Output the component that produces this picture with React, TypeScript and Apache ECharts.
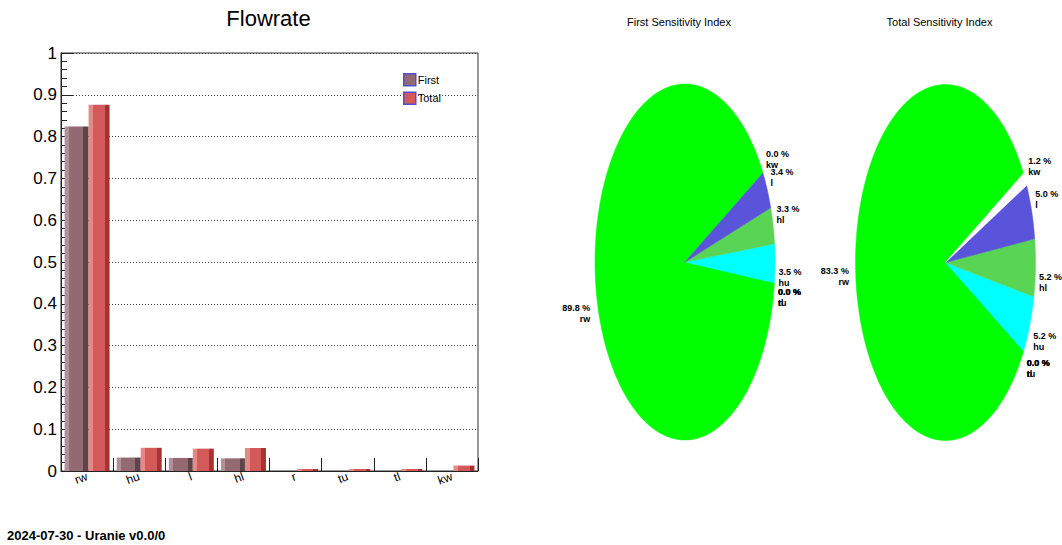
import React, { useEffect, useRef } from "react";
import * as echarts from "echarts";

// ---- data ----
const categories = ["rw", "hu", "l", "hl", "r", "tu", "tl", "kw"];
const firstIndex = [0.824, 0.0322, 0.0312, 0.0303, 0, 0, 0, 0];
const totalIndex = [0.876, 0.0555, 0.0535, 0.055, 0.0004, 0.0004, 0.0004, 0.013];
const yTicks = [0, 1, 0.1];

const pieNames = ["rw", "r", "tu", "tl", "hu", "hl", "l", "kw"];
const pieColors = ["#00ff00", "#0000ff", "#ffff00", "#ff00ff", "#00ffff", "#59d454", "#5954d9", "#ffffff"];
const firstPct = [89.8, 0.0, 0.0, 0.0, 3.5, 3.3, 3.4, 0.0];
const totalPct = [83.3, 0.0, 0.0, 0.0, 5.2, 5.2, 5.0, 1.2];

const FONT = '"Liberation Sans", Arial, Helvetica, sans-serif';
const START_DEG = 30;

function barGradient(light: string, main: string, dark: string, a: number, b: number) {
  return {
    type: "linear",
    x: 0,
    y: 0,
    x2: 1,
    y2: 0,
    colorStops: [
      { offset: 0, color: light },
      { offset: a, color: light },
      { offset: a, color: main },
      { offset: b, color: main },
      { offset: b, color: dark },
      { offset: 1, color: dark },
    ],
  };
}

function makePieSeries(pcts: number[], cx: number, cy: number, rx: number, ry: number) {
  const sum = pcts.reduce((s, v) => s + v, 0);
  let acc = 0;
  const data = pcts.map((p, i) => {
    const s = START_DEG + (acc / sum) * 360;
    acc += p;
    const e = START_DEG + (acc / sum) * 360;
    return [s, e, p, i];
  });
  return {
    type: "custom",
    coordinateSystem: "none",
    silent: true,
    data,
    renderItem: (_params: any, api: any) => {
      const s = api.value(0) as number;
      const e = api.value(1) as number;
      const p = api.value(2) as number;
      const i = api.value(3) as number;
      const children: any[] = [];
      if (e - s > 0.01) {
        const pts: number[][] = [[cx, cy]];
        const n = Math.max(2, Math.ceil(e - s));
        for (let k = 0; k <= n; k++) {
          const a = ((s + ((e - s) * k) / n) * Math.PI) / 180;
          pts.push([cx + rx * Math.cos(a), cy - ry * Math.sin(a)]);
        }
        children.push({
          type: "polygon",
          shape: { points: pts },
          style: { fill: pieColors[i], stroke: pieColors[i], lineWidth: 0.5 },
        });
      }
      const m = (((s + e) / 2) * Math.PI) / 180;
      const c = Math.cos(m);
      const sn = Math.sin(m);
      const lx = cx + rx * 1.04 * c + (c >= 0 ? 0 : -3);
      const ly = cy - ry * 1.04 * sn + (sn > 0 ? 1 : 3);
      children.push({
        type: "text",
        style: {
          text: p.toFixed(1) + " %\n" + pieNames[i],
          x: lx,
          y: ly,
          fill: "#000",
          font: "bold 9px " + FONT,
          align: c >= 0 ? "left" : "right",
          verticalAlign: sn > 0 ? "bottom" : "top",
          lineHeight: 11,
        },
      });
      return { type: "group", children };
    },
  };
}

export default function App() {
  const ref = useRef<HTMLDivElement>(null);
  useEffect(() => {
    document.body.style.margin = "0";
    const chart = echarts.init(ref.current!, null, { renderer: "svg" });
    const firstMain = "#946a72";
    const totalMain = "#d45a5a";
    chart.setOption({
      animation: false,
      backgroundColor: "#ffffff",
      textStyle: { fontFamily: FONT },
      graphic: [
        {
          type: "text",
          x: 268.5,
          y: 18,
          style: { text: "Flowrate", font: "22px " + FONT, fill: "#000", align: "center", verticalAlign: "middle" },
        },
        {
          type: "text",
          x: 679,
          y: 22,
          style: { text: "First Sensitivity Index", font: "11px " + FONT, fill: "#000", align: "center", verticalAlign: "middle" },
        },
        {
          type: "text",
          x: 939.5,
          y: 22,
          style: { text: "Total Sensitivity Index", font: "11px " + FONT, fill: "#000", align: "center", verticalAlign: "middle" },
        },
        {
          type: "text",
          x: 7,
          y: 535,
          style: { text: "2024-07-30 - Uranie v0.0/0", font: "bold 13px " + FONT, fill: "#000", align: "left", verticalAlign: "middle" },
        },
      ],
      legend: {
        show: true,
        orient: "vertical",
        left: 403,
        top: 73,
        padding: 0,
        itemGap: 5,
        itemWidth: 12,
        itemHeight: 12,
        icon: "rect",
        textStyle: { fontSize: 11, color: "#000", fontFamily: FONT, padding: [0, 0, 0, -3] },
        data: [
          { name: "First", itemStyle: { color: firstMain, borderColor: "#4f4fd0", borderWidth: 1.5 } },
          { name: "Total", itemStyle: { color: totalMain, borderColor: "#4f4fd0", borderWidth: 1.5 } },
        ],
      },
      grid: {
        left: 61,
        right: 584,
        top: 53,
        bottom: 74,
        show: true,
        borderColor: "#333",
        borderWidth: 1,
        containLabel: false,
        outerBoundsMode: "none",
      },
      xAxis: {
        type: "category",
        data: categories,
        axisLine: { show: true, lineStyle: { color: "#222", width: 1 } },
        axisTick: { show: true, inside: true, length: 13, lineStyle: { color: "#222" } },
        axisLabel: { color: "#000", fontSize: 12, rotate: 20, margin: 5, fontFamily: FONT },
        splitLine: { show: false },
      },
      yAxis: {
        type: "value",
        min: yTicks[0],
        max: yTicks[1],
        interval: yTicks[2],
        axisLine: { show: true, lineStyle: { color: "#222", width: 1 } },
        axisTick: { show: true, inside: true, length: 12, lineStyle: { color: "#222" } },
        minorTick: { show: true, splitNumber: 5, length: 6, lineStyle: { color: "#222" } },
        axisLabel: { color: "#000", fontSize: 17, margin: 4, fontFamily: FONT },
        splitLine: { show: true, lineStyle: { color: "#444", type: [1, 2], width: 1 } },
        minorSplitLine: { show: false },
      },
      series: [
        {
          name: "First",
          type: "bar",
          data: firstIndex,
          barWidth: 24,
          barGap: "0%",
          itemStyle: { color: barGradient("#b0909a", firstMain, "#5e4449", 0.17, 0.78) },
        },
        {
          name: "Total",
          type: "bar",
          data: totalIndex,
          barWidth: 21,
          barGap: "0%",
          barMinHeight: 2,
          itemStyle: { color: barGradient("#e68888", totalMain, "#a83232", 0.22, 0.78) },
        },
        makePieSeries(firstPct, 685, 262, 90, 178),
        makePieSeries(totalPct, 945.5, 262.5, 90, 178),
      ],
    });
    return () => chart.dispose();
  }, []);
  return <div ref={ref} style={{ width: 1062, height: 545 }} />;
}
